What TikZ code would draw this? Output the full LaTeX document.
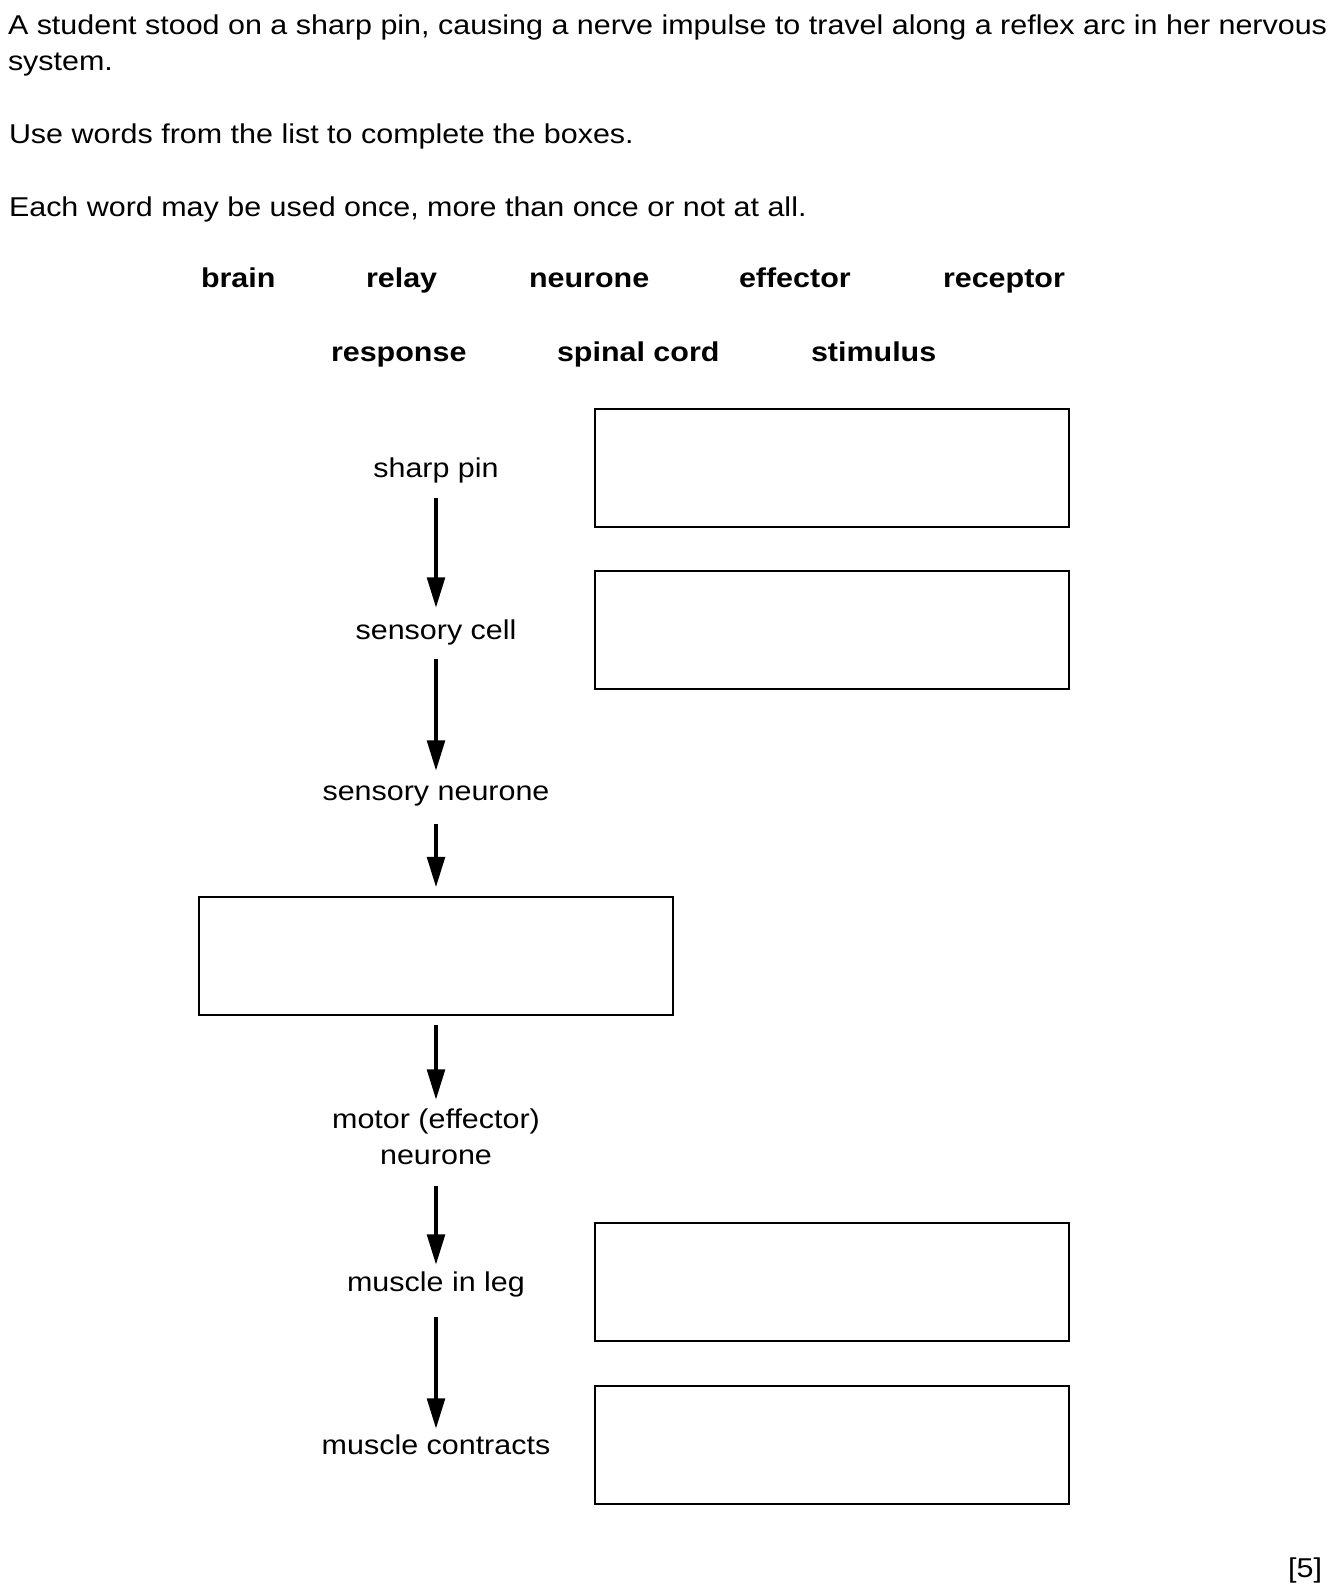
\documentclass[tikz,border=0pt]{standalone}
\usepackage{fontspec}
\setmainfont{Liberation Sans}[FakeStretch=1.12]
\usetikzlibrary{arrows.meta,calc}
\begin{document}
\begin{tikzpicture}[x=0.75pt,y=-0.75pt,
  txt/.style={inner sep=0pt,outer sep=0pt,font=\fontsize{20.4pt}{27pt}\selectfont},
  lt/.style={txt,anchor=base west},
  wd/.style={txt,anchor=base west,font=\fontsize{20.4pt}{27pt}\selectfont\bfseries},
  lbl/.style={txt,anchor=base},
  ansbox/.style={draw,line width=1.5pt,minimum width=355.5pt,minimum height=88.5pt,inner sep=0pt,outer sep=0pt},
  arr/.style={line width=3.4pt,-{Triangle[length=23pt,width=13pt]}}]
\useasboundingbox (0,0) rectangle (1331,1594);
% introduction
\node[lt] (l1) at (8,35) {A student stood on a sharp pin, causing a nerve impulse to travel along a reflex arc in her nervous};
\node[lt] (l2) at (8,71) {system.};
\node[lt] (l3) at (9,144) {Use words from the list to complete the boxes.};
\node[lt] (l4) at (9,217) {Each word may be used once, more than once or not at all.};
% word list
\node[wd] (w1) at (201,288) {brain};
\node[wd] (w2) at (366,288) {relay};
\node[wd] (w3) at (529,288) {neurone};
\node[wd] (w4) at (739,288) {effector};
\node[wd] (w5) at (943,288) {receptor};
\node[wd] (w6) at (331,361) {response};
\node[wd] (w7) at (557,361) {spinal cord};
\node[wd] (w8) at (811,361) {stimulus};
% chain labels
\node[lbl] (pin) at (436,477) {sharp pin};
\node[lbl] (cell) at (436,639) {sensory cell};
\node[lbl] (sneur) at (436,800) {sensory neurone};
\node[lbl] (motor) at (436,1128) {motor (effector)};
\node[lbl] (mneur) at (436,1164) {neurone};
\node[lbl] (leg) at (436,1291) {muscle in leg};
\node[lbl] (contr) at (436,1454) {muscle contracts};
% boxes
\node[ansbox] (b1) at (832,468) {};
\node[ansbox] (b2) at (832,630) {};
\node[ansbox] (b3) at (436,955.5) {};
\node[ansbox] (b4) at (832,1282) {};
\node[ansbox] (b5) at (832,1445) {};
% arrows
\draw[arr] ($(pin.base)+(0,21)$) -- ($(cell.base)+(0,-31)$);
\draw[arr] ($(cell.base)+(0,20)$) -- ($(sneur.base)+(0,-29)$);
\draw[arr] ($(sneur.base)+(0,24)$) -- ($(b3.north)+(0,-9)$);
\draw[arr] ($(b3.south)+(0,10)$) -- ($(motor.base)+(0,-28)$);
\draw[arr] ($(mneur.base)+(0,22)$) -- ($(leg.base)+(0,-26)$);
\draw[arr] ($(leg.base)+(0,26)$) -- ($(contr.base)+(0,-25)$);
% marks
\node[txt,anchor=base east] (mk) at (1322,1577) {[5]};
\end{tikzpicture}
\end{document}
